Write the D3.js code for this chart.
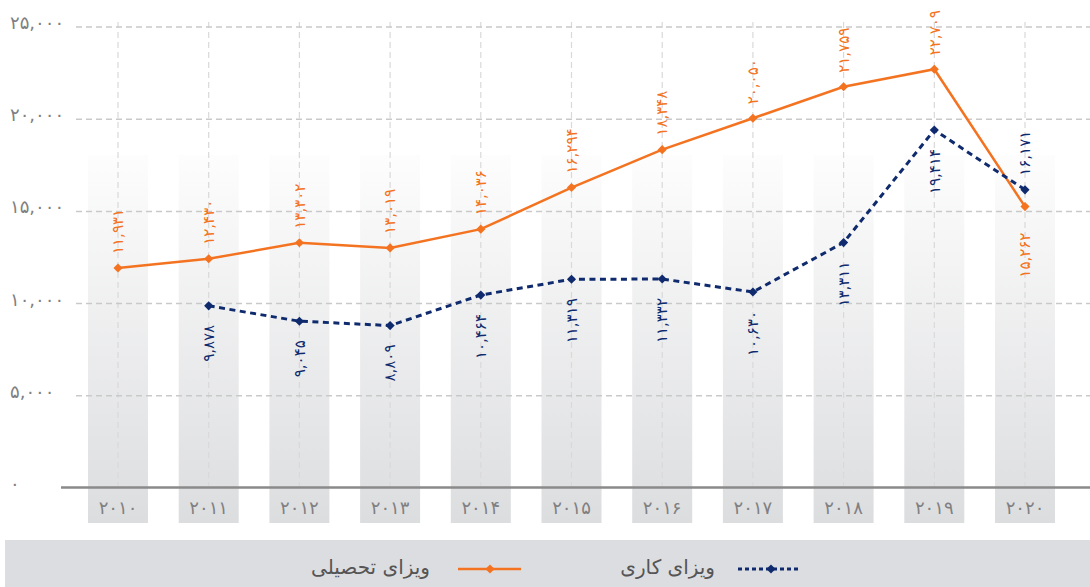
<!DOCTYPE html>
<html>
<head>
<meta charset="utf-8">
<script src="https://cdn.jsdelivr.net/npm/d3@7/dist/d3.min.js"></script>
<style>
  body { margin: 0; background: #fff; }
  svg { display: block; font-family: "DejaVu Sans", sans-serif; }
</style>
</head>
<body>
<div id="chart"></div>
<script>
var years = ["2010", "2011", "2012", "2013", "2014", "2015", "2016", "2017", "2018", "2019", "2020"];
var studyVisa = [11931, 12430, 13302, 13019, 14036, 16294, 18348, 20050, 21759, 22709, 15262];
var workVisa = [null, 9878, 9045, 8809, 10464, 11319, 11332, 10630, 13311, 19414, 16171];
var yTicks = [0, 5000, 10000, 15000, 20000, 25000];
var seriesNames = ["ویزای تحصیلی", "ویزای کاری"];

var w = 1090, h = 587;

var color = {
    study: "#f47321",
    work: "#0f2b6e",
    grid: "#c9c9c9",
    vgrid: "#d9d9d9",
    axis: "#8a8a8a",
    tick: "#808080",
    legendBg: "#dcdde0"
};

// persian digits
function fa(n) {
    return d3.format(",")(n).replace(/[0-9]/g, function(c) { return "۰۱۲۳۴۵۶۷۸۹"[+c]; });
}

var svg = d3.select("#chart")
    .append("svg")
    .attr("width", w)
    .attr("height", h);

var x = d3.scalePoint().domain(years).range([118, 1025]);
var y = d3.scaleLinear().domain([0, 25000]).range([488, 27]);
var bandW = 60;

var defs = svg.append("defs");
var grad = defs.append("linearGradient")
    .attr("id", "bandGrad")
    .attr("x1", 0).attr("y1", 0).attr("x2", 0).attr("y2", 1);
grad.append("stop").attr("offset", "0%").attr("stop-color", "#fdfdfd");
grad.append("stop").attr("offset", "100%").attr("stop-color", "#dcdddf");

// grey column bands
svg.append("g").selectAll("rect")
    .data(years)
    .enter()
    .append("rect")
    .attr("x", function(d) { return x(d) - bandW / 2; })
    .attr("y", 155)
    .attr("width", bandW)
    .attr("height", 523 - 155)
    .attr("fill", "url(#bandGrad)");

// vertical grid
svg.append("g").selectAll("line")
    .data(years)
    .enter()
    .append("line")
    .attr("x1", function(d) { return x(d); })
    .attr("x2", function(d) { return x(d); })
    .attr("y1", 22)
    .attr("y2", y(0))
    .attr("stroke", color.vgrid)
    .attr("stroke-width", 1.2)
    .attr("stroke-dasharray", "6,4");

// horizontal grid
svg.append("g").selectAll("line")
    .data(yTicks.filter(function(d) { return d > 0; }))
    .enter()
    .append("line")
    .attr("x1", 76)
    .attr("x2", w)
    .attr("y1", function(d) { return y(d); })
    .attr("y2", function(d) { return y(d); })
    .attr("stroke", color.grid)
    .attr("stroke-width", 1.5)
    .attr("stroke-dasharray", "6,4");

// y labels
svg.append("g").selectAll("text")
    .data(yTicks)
    .enter()
    .append("text")
    .attr("x", 10)
    .attr("y", function(d) { return y(d) + 2; })
    .attr("fill", color.tick)
    .attr("font-size", 18)
    .text(function(d) { return fa(d); });

// x axis line
svg.append("line")
    .attr("x1", 61).attr("x2", w)
    .attr("y1", 487.5).attr("y2", 487.5)
    .attr("stroke", color.axis)
    .attr("stroke-width", 2.5);

// x labels
svg.append("g").selectAll("text")
    .data(years)
    .enter()
    .append("text")
    .attr("x", function(d) { return x(d); })
    .attr("y", 514)
    .attr("text-anchor", "middle")
    .attr("fill", color.tick)
    .attr("font-size", 18)
    .text(function(d) { return fa(+d).replace(",", ""); });

var series = [
    { key: "study", values: studyVisa, dash: null },
    { key: "work", values: workVisa, dash: "6,4.5" }
];

var line = d3.line()
    .defined(function(d) { return d.v != null; })
    .x(function(d) { return x(d.year); })
    .y(function(d) { return y(d.v); });

var diamond = d3.symbol().type(d3.symbolSquare).size(42);

series.forEach(function(s, si) {
    var pts = years.map(function(yr, i) {
        var other = series[1 - si].values[i];
        return { year: yr, v: s.values[i], above: other == null || s.values[i] >= other };
    });
    var g = svg.append("g").attr("class", "series " + s.key);

    g.append("path")
        .datum(pts)
        .attr("d", line)
        .attr("fill", "none")
        .attr("stroke", color[s.key])
        .attr("stroke-width", s.dash ? 3 : 2.5)
        .attr("stroke-dasharray", s.dash);

    var valid = pts.filter(function(d) { return d.v != null; });

    g.selectAll("path.pt")
        .data(valid)
        .enter()
        .append("path")
        .attr("class", "pt")
        .attr("d", diamond)
        .attr("transform", function(d) { return "translate(" + x(d.year) + "," + y(d.v) + ") rotate(45)"; })
        .attr("fill", color[s.key]);

    g.selectAll("text")
        .data(valid)
        .enter()
        .append("text")
        .attr("transform", function(d) {
            var off = d.above ? -14 : (s.key === "study" ? 26 : 19);
            return "translate(" + x(d.year) + "," + (y(d.v) + off) + ") rotate(-90)";
        })
        .attr("text-anchor", function(d) { return d.above ? "start" : "end"; })
        .attr("dy", "0.35em")
        .attr("font-size", 15)
        .attr("fill", color[s.key])
        .text(function(d) { return fa(d.v); });
});

// legend
var legend = svg.append("g");
legend.append("rect")
    .attr("x", 5).attr("y", 540)
    .attr("width", w - 5).attr("height", h - 540)
    .attr("fill", color.legendBg);

var legItems = [
    { key: "study", name: seriesNames[0], x1: 458, x2: 521, mx: 490, tx: 430, dash: null },
    { key: "work", name: seriesNames[1], x1: 738, x2: 798, mx: 771, tx: 715, dash: "4,3" }
];

legItems.forEach(function(d) {
    legend.append("line")
        .attr("x1", d.x1).attr("x2", d.x2)
        .attr("y1", 569).attr("y2", 569)
        .attr("stroke", color[d.key])
        .attr("stroke-width", d.dash ? 3 : 2.5)
        .attr("stroke-dasharray", d.dash);
    legend.append("path")
        .attr("d", diamond)
        .attr("transform", "translate(" + d.mx + ",569) rotate(45)")
        .attr("fill", color[d.key]);
    legend.append("text")
        .attr("x", d.tx)
        .attr("y", 567)
        .attr("dy", "0.35em")
        .attr("text-anchor", "end")
        .attr("font-size", 20)
        .attr("fill", "#555")
        .text(d.name);
});
</script>
</body>
</html>
